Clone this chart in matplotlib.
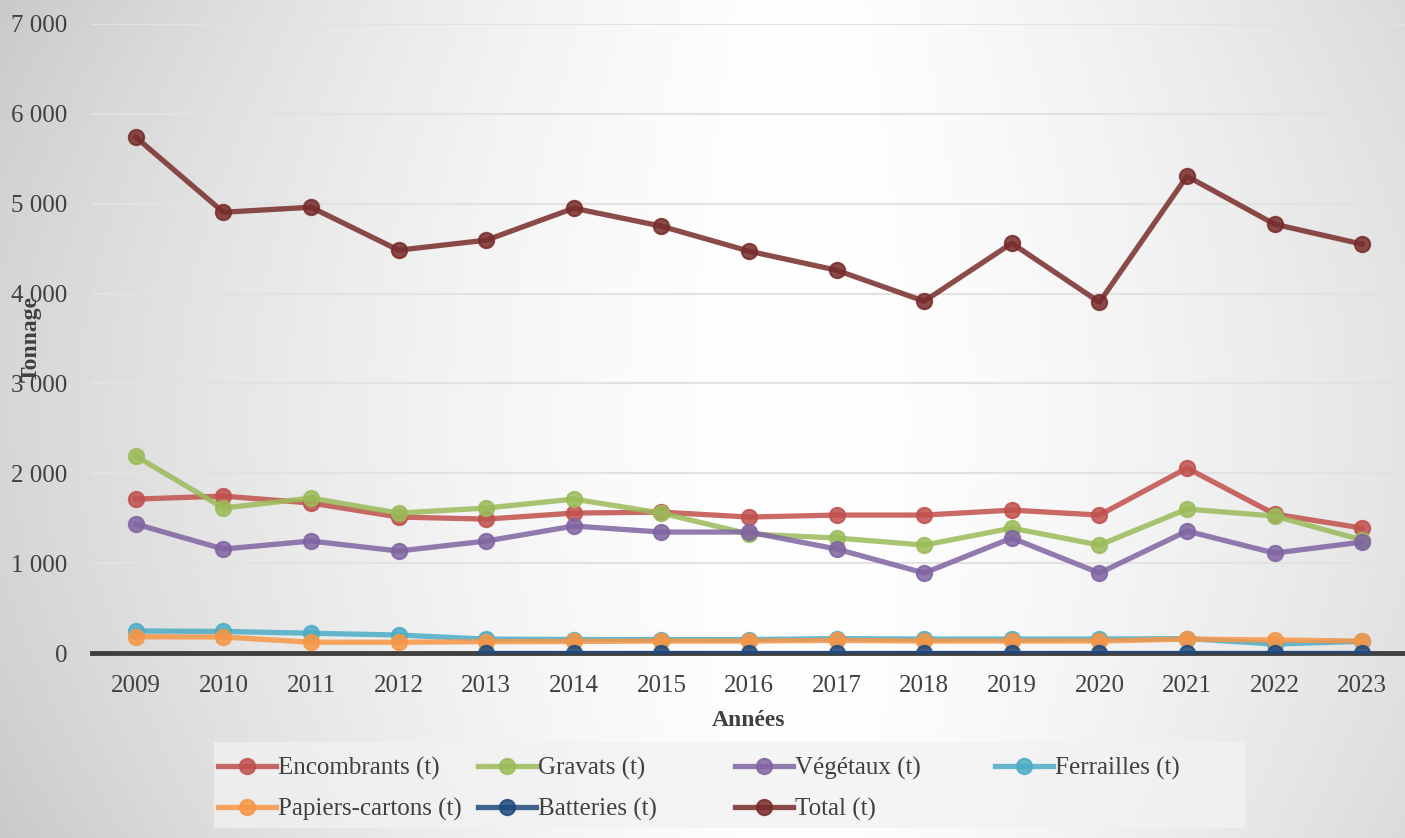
import matplotlib.pyplot as plt
import matplotlib.patches as mpatches
import numpy as np

years = [str(y) for y in range(2009, 2024)]

encombrants = [1713, 1746, 1669, 1513, 1490, 1557, 1568, 1513, 1535, 1535, 1590, 1535, 2058, 1546, 1390]
gravats = [2191, 1613, 1724, 1557, 1613, 1713, 1557, 1324, 1280, 1201, 1390, 1201, 1602, 1524, 1257]
vegetaux = [1435, 1157, 1246, 1135, 1246, 1413, 1346, 1346, 1157, 890, 1280, 890, 1357, 1112, 1235]
ferrailles = [245, 240, 220, 200, 155, 150, 150, 150, 160, 155, 155, 155, 160, 100, 130]
papiers = [181, 178, 120, 120, 126, 128, 133, 133, 140, 133, 133, 133, 155, 145, 133]
batteries = [None, None, None, None, 2, 2, 2, 2, 2, 2, 2, 2, 2, 2, 2]
total = [5740, 4905, 4961, 4483, 4594, 4950, 4750, 4472, 4260, 3915, 4560, 3904, 5306, 4772, 4550]

series = [
    ('Encombrants (t)', encombrants, '#c0504d'),
    ('Gravats (t)', gravats, '#9bbb59'),
    ('Végétaux (t)', vegetaux, '#8064a2'),
    ('Ferrailles (t)', ferrailles, '#4bacc6'),
    ('Papiers-cartons (t)', papiers, '#f79646'),
    ('Batteries (t)', batteries, '#1f497d'),
    ('Total (t)', total, '#772c2a'),
]

plt.rcParams['font.family'] = ['Liberation Serif', 'DejaVu Serif']
txt = '#404040'
fs = 18

fig = plt.figure(figsize=(14.05, 8.38), dpi=100)

# fond en dégradé (blanc au centre, gris sur les bords)
bg = fig.add_axes([0, 0, 1, 1])
W, H = 1405, 838
xx, yy = np.meshgrid(np.arange(W), np.arange(H))
dx = np.abs(xx - 800) / 800
dy = np.abs(yy - 420) / 420
v = 1 - 0.16 * dx ** 1.5 - 0.05 * dx * dy ** 2
bg.imshow(np.dstack([v, v, v]), aspect='auto', extent=[0, W, H, 0], vmin=0, vmax=1)
bg.set_xlim(0, W)
bg.set_ylim(H, 0)
bg.set_axis_off()

ax = fig.add_axes([92 / W, (838 - 653) / H, (1406 - 92) / W, (653 - 24) / H])
ax.set_facecolor('none')

x = np.arange(len(years))
handles = {}
for name, vals, col in series:
    yv = np.array([np.nan if v is None else v for v in vals], dtype=float)
    h, = ax.plot(x, yv, '-o', color=col, lw=3.8, ms=11, alpha=0.85,
                 markeredgecolor=col, markeredgewidth=1.5, label=name, zorder=3)
    handles[name] = h

ax.set_xlim(-0.5, len(years) - 0.5)
ax.set_ylim(0, 7000)
ax.set_yticks(range(0, 7001, 1000))
ax.set_yticklabels([f'{t:,}'.replace(',', ' ') for t in range(0, 7001, 1000)])
ax.set_xticks(x)
ax.set_xticklabels(years)
ax.tick_params(axis='both', length=0, labelsize=fs, colors=txt)
ax.tick_params(axis='y', pad=18)
ax.tick_params(axis='x', pad=16)
ax.grid(axis='y', color='#e2e2e2', lw=1.5, zorder=0)
for s in ax.spines.values():
    s.set_visible(False)
ax.axhline(0, color='#404040', lw=3.5, zorder=2, clip_on=False)

ax.set_xlabel('Années', fontsize=17, fontweight='bold', color=txt, labelpad=9)
ax.set_ylabel('Tonnage', fontsize=17, fontweight='bold', color=txt)
ax.yaxis.set_label_coords(-0.038, 0.5)

# cadre de la légende
fig.patches.append(mpatches.Rectangle((214 / W, 1 - 828 / H), (1245 - 214) / W, 86 / H,
                                      transform=fig.transFigure, facecolor='#f2f2f2',
                                      edgecolor='none', alpha=0.75, zorder=1))

columns = [
    (218, ['Encombrants (t)', 'Papiers-cartons (t)']),
    (478, ['Gravats (t)', 'Batteries (t)']),
    (735, ['Végétaux (t)', 'Total (t)']),
    (995, ['Ferrailles (t)']),
]
for x0, names in columns:
    fig.legend([handles[n] for n in names], names, loc='upper left',
               bbox_to_anchor=(x0 / W, 1 - 757 / H), fontsize=fs, frameon=False,
               handlelength=2.3, handletextpad=0.1, labelspacing=0.72,
               borderpad=0, borderaxespad=0, labelcolor=txt)

fig.savefig('out.png', dpi=100)
